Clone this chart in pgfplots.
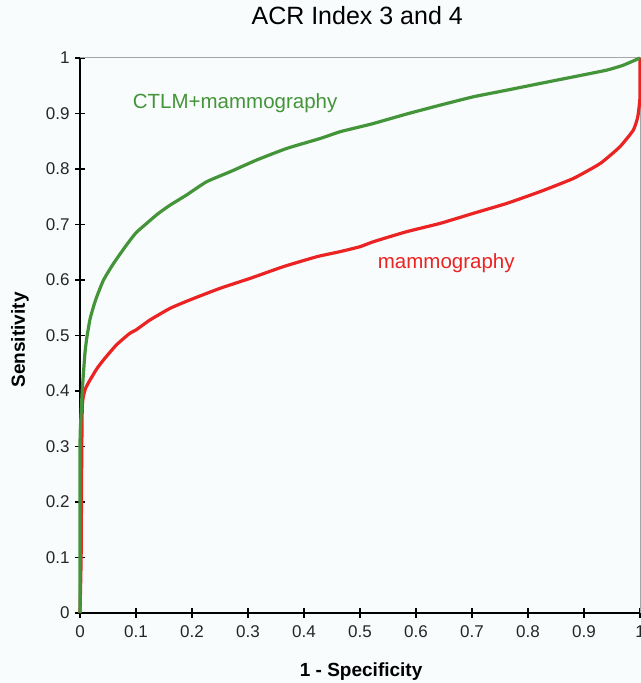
\documentclass[border=0pt]{standalone}
\usepackage{fontspec}
\setmainfont{Liberation Sans}
\usepackage{pgfplots}
\pgfplotsset{compat=1.18}
\definecolor{bgc}{RGB}{248,252,253}
\definecolor{gline}{RGB}{68,148,58}
\definecolor{rline}{RGB}{235,35,35}
\begin{document}
\begin{tikzpicture}
\fill[bgc] (-80bp,-70bp) rectangle (561bp,613bp);
\useasboundingbox (-80bp,-70bp) rectangle (561bp,613bp);
\begin{axis}[
  width=560bp, height=555bp, scale only axis,
  xmin=0, xmax=1, ymin=0, ymax=1,
  axis lines*=left,
  axis line style={black, line width=1.2bp},
  every tick/.style={black, line width=1.2bp},
  tick align=center,
  major tick length=10bp,
  xtick={0,0.1,...,1.01}, ytick={0,0.1,...,1.01},
  /pgf/number format/assume math mode=true,
  ticklabel style={font=\fontsize{17bp}{17bp}\selectfont, text=black!85},
  xticklabel style={yshift=-4bp},
  yticklabel style={xshift=-2bp},
  clip=false,
  title={ACR Index 3 and 4},
  title style={at={(rel axis cs:0.495,1.065)}, anchor=center, font=\fontsize{25bp}{25bp}\selectfont},
  xlabel={1 - Specificity},
  xlabel style={at={(rel axis cs:0.502,-0.106)}, anchor=center, font=\bfseries\fontsize{19bp}{19bp}\selectfont},
  ylabel={Sensitivity},
  ylabel style={at={(rel axis cs:-0.107,0.492)}, anchor=center, rotate=0, font=\bfseries\fontsize{19bp}{19bp}\selectfont},
]
\draw[gray!70, line width=1bp] (rel axis cs:0,1) -- (rel axis cs:1,1) -- (rel axis cs:1,0);
\addplot[rline, line width=3.2bp, smooth, tension=0.3] coordinates {
(0,0) (0.002,0.10) (0.003,0.27) (0.004,0.37) (0.006,0.39) (0.01,0.405) (0.018,0.42) (0.03,0.44) (0.042,0.456) (0.065,0.483) (0.089,0.504) (0.10,0.51) (0.125,0.528) (0.161,0.549) (0.196,0.564) (0.25,0.585) (0.304,0.603) (0.363,0.624) (0.423,0.642) (0.464,0.651) (0.5,0.66) (0.524,0.669) (0.583,0.687) (0.643,0.702) (0.702,0.72) (0.762,0.738) (0.821,0.759) (0.881,0.783) (0.929,0.81) (0.964,0.84) (0.988,0.87) (0.996,0.894) (1,0.93) (1,1)
};
\addplot[gline, line width=3.2bp, smooth, tension=0.3] coordinates {
(0,0) (0,0.30) (0.002,0.36) (0.004,0.40) (0.006,0.43) (0.009,0.47) (0.012,0.495) (0.018,0.53) (0.025,0.555) (0.030,0.57) (0.042,0.60) (0.060,0.63) (0.083,0.663) (0.10,0.685) (0.119,0.702) (0.14,0.72) (0.161,0.735) (0.19,0.753) (0.226,0.777) (0.268,0.795) (0.315,0.816) (0.369,0.837) (0.429,0.855) (0.464,0.867) (0.5,0.876) (0.524,0.882) (0.583,0.899) (0.643,0.915) (0.702,0.930) (0.762,0.942) (0.821,0.954) (0.881,0.966) (0.94,0.978) (0.97,0.987) (1,1)
};
\node[text=gline, font=\fontsize{20.5bp}{20.5bp}\selectfont] at (axis cs:0.277,0.919) {CTLM+mammography};
\node[text=rline, font=\fontsize{20.5bp}{20.5bp}\selectfont] at (axis cs:0.654,0.631) {mammography};
\end{axis}
\end{tikzpicture}
\end{document}
